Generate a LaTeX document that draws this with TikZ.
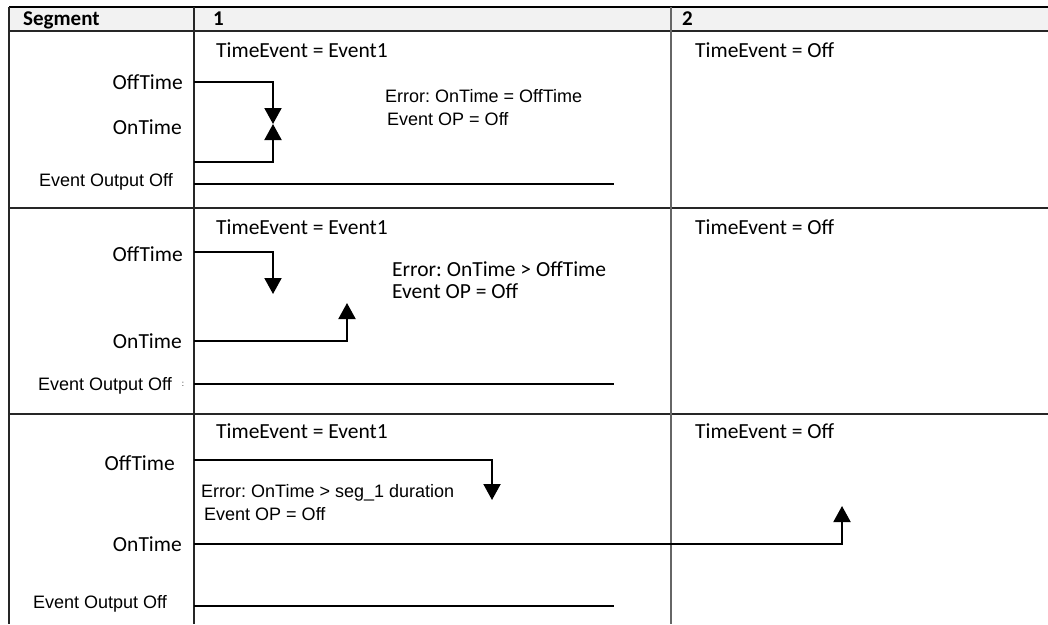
\documentclass[tikz,border=0pt]{standalone}
\usepackage{fontspec}
\setmainfont{Carlito}
\newfontfamily\arialf{Liberation Sans}
\usetikzlibrary{arrows.meta}
\frenchspacing
\begin{document}
\begin{tikzpicture}[x=1pt,y=-1pt,
  gridline/.style={line width=1.1pt, draw=black!85},
  colline/.style={line width=1.3pt, draw=black!60},
  sig/.style={line width=2pt, draw=black},
  arr/.style={sig, -{Triangle[length=16pt,width=17pt]}},
  cal/.style={font=\fontsize{21.5}{24}\selectfont, inner sep=0pt},
  ari/.style={font=\arialf\fontsize{18}{21}\selectfont, inner sep=0pt},
  hdr/.style={font=\bfseries\fontsize{21}{24}\selectfont, inner sep=0pt},
  tiny/.style={font=\arialf\fontsize{8}{9}\selectfont, inner sep=0pt},
]
\useasboundingbox (0,0) rectangle (1048,624);
% table
\fill[black!5] (9,7) rectangle (1048,31);
\draw[line width=1.8pt] (9,7) -- (1048,7);
\draw[gridline] (9,31) -- (1048,31);
\draw[gridline] (9,208) -- (1048,208);
\draw[gridline] (9,414) -- (1048,414);
\draw[gridline] (9,7) -- (9,624);
\draw[gridline] (194,7) -- (194,624);
\draw[colline] (671,7) -- (671,624);
% header
\node[hdr, anchor=base west] (hseg) at (23,25) {Segment};
\node[hdr, anchor=base west] (h1) at (213,25) {1};
\node[hdr, anchor=base west] (h2) at (682,25) {2};

% ---------- row 1 ----------
\node[cal, anchor=base west] (r1te) at (216,57) {TimeEvent = Event1};
\node[cal, anchor=base west] (r1te2) at (695,57) {TimeEvent = Off};
\node[cal, anchor=base east] (r1off) at (183,89) {OffTime};
\node[cal, anchor=base east] (r1on) at (182,134) {OnTime};
\node[ari, anchor=base east] (r1eo) at (173,186) {Event Output Off};
\node[ari, anchor=base west] (r1err) at (385,102) {Error: OnTime = OffTime};
\node[ari, anchor=base west] (r1op) at (387,125) {Event OP = Off};
\coordinate (r1offs) at (194,82);
\coordinate (r1offt) at (273,124);
\coordinate (r1ons) at (194,162);
\coordinate (r1ont) at (273,124);
\coordinate (r1eos) at (194,184);
\coordinate (r1eoe) at (614,184);
\draw[arr] (r1offs) -| (r1offt);
\draw[arr] (r1ons) -| (r1ont);
\draw[sig] (r1eos) -- (r1eoe);

% ---------- row 2 ----------
\node[cal, anchor=base west] (r2te) at (216,234) {TimeEvent = Event1};
\node[cal, anchor=base west] (r2te2) at (695,234) {TimeEvent = Off};
\node[cal, anchor=base east] (r2off) at (183,261) {OffTime};
\node[cal, anchor=base east] (r2on) at (182,348) {OnTime};
\node[ari, anchor=base east] (r2eo) at (172,390) {Event Output Off};
\node[tiny, anchor=base] (r2colon) at (183,386) {:};
\node[cal, anchor=base west] (r2err) at (392,276) {Error: OnTime > OffTime};
\node[cal, anchor=base west] (r2op) at (392,298) {Event OP = Off};
\coordinate (r2offs) at (194,252);
\coordinate (r2offt) at (273,294);
\coordinate (r2ons) at (194,341);
\coordinate (r2ont) at (347,303);
\coordinate (r2eos) at (194,384);
\coordinate (r2eoe) at (614,384);
\draw[arr] (r2offs) -| (r2offt);
\draw[arr] (r2ons) -| (r2ont);
\draw[sig] (r2eos) -- (r2eoe);

% ---------- row 3 ----------
\node[cal, anchor=base west] (r3te) at (216,438) {TimeEvent = Event1};
\node[cal, anchor=base west] (r3te2) at (695,438) {TimeEvent = Off};
\node[cal, anchor=base east] (r3off) at (175,470) {OffTime};
\node[cal, anchor=base east] (r3on) at (182,551) {OnTime};
\node[ari, anchor=base east] (r3eo) at (167,608) {Event Output Off};
\node[ari, anchor=base west] (r3err) at (201,497) {Error: OnTime > seg\_1 duration};
\node[ari, anchor=base west] (r3op) at (204,520) {Event OP = Off};
\coordinate (r3offs) at (194,460);
\coordinate (r3offt) at (492,500);
\coordinate (r3ons) at (194,544);
\coordinate (r3ont) at (842,506);
\coordinate (r3eos) at (194,606);
\coordinate (r3eoe) at (614,606);
\draw[arr] (r3offs) -| (r3offt);
\draw[arr] (r3ons) -| (r3ont);
\draw[sig] (r3eos) -- (r3eoe);
\end{tikzpicture}
\end{document}
